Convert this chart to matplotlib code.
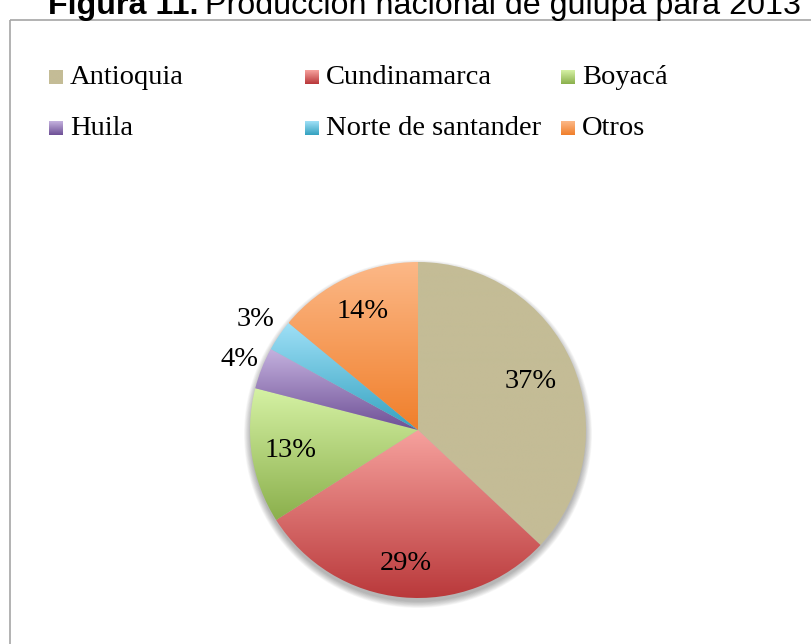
import numpy as np
import matplotlib.pyplot as plt
from matplotlib.patches import Circle

# datos
regiones = ['Antioquia', 'Cundinamarca', 'Boyacá', 'Huila', 'Norte de santander', 'Otros']
porcentajes = [37, 29, 13, 4, 3, 14]
etiquetas = ['37%', '29%', '13%', '4%', '3%', '14%']
color_claro = ['#c4bc96', '#f6a19d', '#d5f1a4', '#c4b1de', '#9fe0f7', '#fcb887']
color_oscuro = ['#c4bc96', '#b9383a', '#8bb04c', '#6e5096', '#35a2c0', '#f07f2b']

W, H = 812, 644
fig = plt.figure(figsize=(W / 100, H / 100), dpi=100)
ax = fig.add_axes([0, 0, 1, 1])

def py(y):
    # pixel desde arriba -> coordenada y
    return H - y

def gradiente(i, n=128):
    c1 = np.array(plt.matplotlib.colors.to_rgb(color_claro[i]))
    c2 = np.array(plt.matplotlib.colors.to_rgb(color_oscuro[i]))
    s = np.linspace(0, 1, n)[:, None]
    return (c1 * (1 - s) + c2 * s)[:, None, :]

serif = 'Liberation Serif'

# torta
cx, cy, rad = 418, py(430), 168
for k in range(10):
    ax.add_patch(Circle((cx, cy - 4), rad + 6 - k * 0.7, color='black',
                        alpha=0.03, lw=0, zorder=1))

wedges, _ = ax.pie(porcentajes, startangle=90, counterclock=False,
                   center=(cx, cy), radius=rad, frame=True)

for i, w in enumerate(wedges):
    w.set_facecolor('none')
    w.set_edgecolor('none')
    w.set_zorder(3)
    v = w.get_path().vertices
    y0, y1 = v[:, 1].min(), v[:, 1].max()
    x0, x1 = v[:, 0].min(), v[:, 0].max()
    im = ax.imshow(gradiente(i), extent=(x0, x1, y0, y1), origin='upper',
                   aspect='auto', interpolation='bilinear', zorder=2)
    im.set_clip_path(w)

dist = [0.73, 0.80, 0.77, 1.14, 1.17, 0.78]
for i, w in enumerate(wedges):
    ang = np.deg2rad((w.theta1 + w.theta2) / 2)
    ax.text(cx + dist[i] * rad * np.cos(ang), cy + dist[i] * rad * np.sin(ang),
            etiquetas[i], fontsize=20.5, family=serif, ha='center', va='center',
            zorder=5)

# leyenda
col_x = [49, 305, 561]
fila_y = [77, 128]
for i, nombre in enumerate(regiones):
    x = col_x[i % 3]
    y = py(fila_y[i // 3])
    ax.imshow(gradiente(i, 32), extent=(x, x + 14, y - 7, y + 7), origin='upper',
              aspect='auto', interpolation='bilinear', zorder=4)
    ax.text(x + 21, y, nombre, fontsize=20.5, family=serif, ha='left',
            va='center', zorder=5)

ax.set_xlim(0, W)
ax.set_ylim(0, H)
ax.axis('off')

# marco
ax.plot([10, 10], [py(20), 0], color='#a6a6a6', lw=1.2, solid_capstyle='butt')
ax.plot([10, W], [py(20), py(20)], color='#a6a6a6', lw=1.2, solid_capstyle='butt')

# titulo (cortado arriba)
t1 = ax.text(48, py(14), 'Figura 11.', fontsize=23.2, fontweight='bold',
             family='Liberation Sans', va='baseline', ha='left')
fig.canvas.draw()
bb = t1.get_window_extent(fig.canvas.get_renderer())
ax.text(bb.x1 + 7, py(14), 'Producción nacional de gulupa para 2013', fontsize=23.2,
        family='Liberation Sans', va='baseline', ha='left')

fig.savefig('out.png', dpi=100)
